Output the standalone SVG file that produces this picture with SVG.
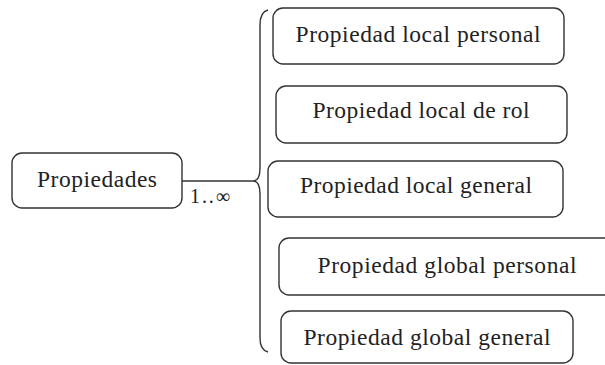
<svg xmlns="http://www.w3.org/2000/svg" width="605" height="365" viewBox="0 0 605 365">
<style>
.box{fill:#fff;stroke:#333;stroke-width:1.4}
.t{font-family:"Liberation Serif",serif;font-size:23.5px;fill:#222;text-anchor:middle}
.c{fill:none;stroke:#333;stroke-width:1.4}
</style>
<rect width="605" height="365" fill="#fff"/>
<g id="connectors">
<path class="c" d="M182 181 H253"/>
<path class="c" d="M268 10 Q260 12 260 25 V168 Q260 181 253 181 Q260 181 260 194 V338 Q260 350 268 352"/>
<text class="t" x="210" y="203" style="font-size:20px" textLength="40" lengthAdjust="spacing">1..∞</text>
</g>
<g id="propiedades">
<rect class="box" x="12" y="153" width="170" height="55" rx="10"/>
<text class="t" x="97" y="187" textLength="120" lengthAdjust="spacing">Propiedades</text>
</g>
<g id="local-personal">
<rect class="box" x="273" y="8" width="291" height="56" rx="10"/>
<text class="t" x="418" y="42" textLength="245" lengthAdjust="spacing">Propiedad local personal</text>
</g>
<g id="local-rol">
<rect class="box" x="276" y="86" width="291" height="57" rx="10"/>
<text class="t" x="421" y="118" textLength="217" lengthAdjust="spacing">Propiedad local de rol</text>
</g>
<g id="local-general">
<rect class="box" x="268" y="161" width="295" height="56" rx="10"/>
<text class="t" x="416" y="193" textLength="232" lengthAdjust="spacing">Propiedad local general</text>
</g>
<g id="global-personal">
<rect class="box" x="279" y="238" width="340" height="57" rx="10"/>
<text class="t" x="447" y="273" textLength="259" lengthAdjust="spacing">Propiedad global personal</text>
</g>
<g id="global-general">
<rect class="box" x="281" y="311" width="292" height="52" rx="10"/>
<text class="t" x="427" y="345" textLength="247" lengthAdjust="spacing">Propiedad global general</text>
</g>
</svg>
